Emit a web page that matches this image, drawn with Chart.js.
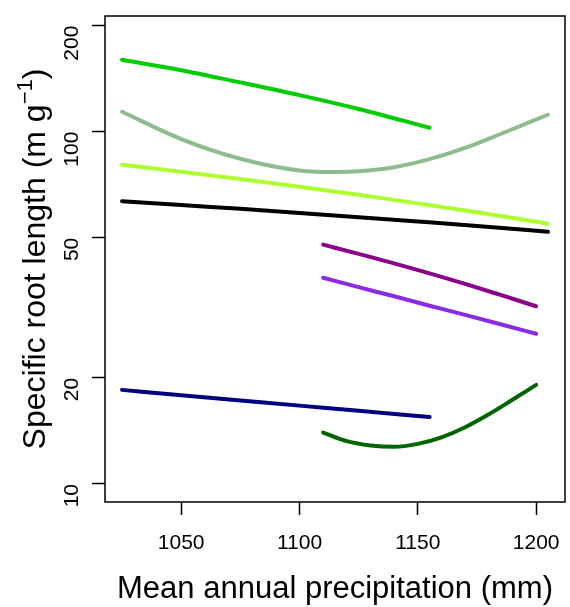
<!DOCTYPE html>
<html>
<head>
<meta charset="utf-8">
<script src="https://cdn.jsdelivr.net/npm/chart.js@4.4.0/dist/chart.umd.min.js"></script>
<style>
  html, body { margin: 0; padding: 0; background: #fff; }
  #wrap { width: 570px; height: 607px; }
</style>
</head>
<body>
<div id="wrap"><canvas id="myChart" width="570" height="607"></canvas></div>
<script>
// tick labels
var xTicks = [1050, 1100, 1150, 1200];
var yTicks = [10, 20, 50, 100, 200];

// fitted curves
var x1 = [1025, 1050, 1075, 1100, 1125, 1155];
var brightGreen = [160, 149.5, 138, 127, 116, 102.6];

var x2 = [1025, 1050, 1075, 1100, 1115, 1125, 1140, 1155, 1170, 1185, 1205];
var seaGreen = [113.9, 95.3, 83.8, 77.6, 76.8, 77.2, 79.3, 83.6, 89.9, 98.5, 111.7];

var x3 = [1025, 1050, 1075, 1100, 1125, 1150, 1175, 1205];
var yellowGreen = [80.6, 77.0, 73.4, 69.8, 66.2, 62.6, 59.1, 54.8];
var blackLine = [63.5, 61.9, 60.4, 58.8, 57.2, 55.6, 54.0, 52.0];

var x4 = [1110, 1125, 1140, 1155, 1170, 1185, 1200];
var magenta = [47.8, 45.0, 42.3, 39.6, 36.98, 34.4, 31.95];
var violet = [38.5, 36.2, 34.1, 32.06, 30.2, 28.4, 26.7];

var x5 = [1025, 1050, 1075, 1100, 1125, 1155];
var navy = [18.5, 17.85, 17.26, 16.69, 16.13, 15.5];

var x6 = [1110, 1120, 1130, 1140, 1150, 1160, 1170, 1180, 1190, 1200];
var darkGreen = [14.0, 13.24, 12.87, 12.75, 13.0, 13.57, 14.49, 15.77, 17.34, 19.12];

var FONT = '"Liberation Sans", Arial, sans-serif';

function pts(xs, ys) {
    return xs.map(function(x, i) { return {x: x, y: ys[i]}; });
}

function line(xs, ys, color) {
    return {
        data: pts(xs, ys),
        borderColor: color,
        borderWidth: 4,
        pointRadius: 0,
        cubicInterpolationMode: 'monotone',
        borderCapStyle: 'round',
        fill: false
    };
}

var boxAndTitle = {
    id: 'boxAndTitle',
    afterDraw: function(chart) {
        var ctx = chart.ctx;
        var a = chart.chartArea;
        ctx.save();
        ctx.strokeStyle = '#000';
        ctx.lineWidth = 1.5;
        ctx.strokeRect(a.left, a.top, a.right - a.left, a.bottom - a.top);

        // y axis title with superscript
        var big = '32px ' + FONT;
        var small = '22px ' + FONT;
        var p1 = 'Specific root length (m g';
        var p2 = '\u22121';
        var p3 = ')';
        ctx.font = big;
        var w1 = ctx.measureText(p1).width;
        var w3 = ctx.measureText(p3).width;
        ctx.font = small;
        var w2 = ctx.measureText(p2).width;
        var total = w1 + w2 + w3;
        ctx.translate(45, (a.top + a.bottom) / 2);
        ctx.rotate(-Math.PI / 2);
        ctx.fillStyle = '#000';
        ctx.textBaseline = 'alphabetic';
        ctx.textAlign = 'left';
        var sx = -total / 2;
        ctx.font = big;
        ctx.fillText(p1, sx, 0);
        ctx.font = small;
        ctx.fillText(p2, sx + w1, -13);
        ctx.font = big;
        ctx.fillText(p3, sx + w1 + w2, 0);
        ctx.restore();
    }
};

var ctx = document.getElementById('myChart').getContext('2d');
var myChart = new Chart(ctx, {
    type: 'line',
    data: {
        datasets: [
            line(x1, brightGreen, '#00CD00'),
            line(x2, seaGreen, '#8FBC8F'),
            line(x3, yellowGreen, '#ADFF2F'),
            line(x3, blackLine, '#000000'),
            line(x4, magenta, '#8B008B'),
            line(x4, violet, '#8A2BE2'),
            line(x5, navy, '#000080'),
            line(x6, darkGreen, '#006400')
        ]
    },
    options: {
        responsive: false,
        animation: false,
        layout: { padding: { left: 0, top: 16, right: 5, bottom: 0 } },
        plugins: {
            legend: { display: false },
            tooltip: { enabled: false }
        },
        scales: {
            x: {
                type: 'linear',
                min: 1017.8,
                max: 1212.2,
                afterBuildTicks: function(s) {
                    s.ticks = xTicks.map(function(v) { return {value: v}; });
                },
                afterFit: function(s) {
                    s.height = 105;
                    s.paddingLeft = 0;
                    s.paddingRight = 0;
                },
                grid: {
                    drawOnChartArea: false,
                    drawTicks: true,
                    tickLength: 13,
                    tickColor: '#000',
                    tickWidth: 1.5
                },
                border: { display: false },
                ticks: {
                    color: '#000',
                    padding: 16,
                    maxRotation: 0,
                    callback: function(v) { return String(v); },
                    font: { family: FONT, size: 21 }
                },
                title: {
                    display: true,
                    text: 'Mean annual precipitation (mm)',
                    color: '#000',
                    padding: { top: 0, bottom: 0 },
                    font: { family: FONT, size: 31, lineHeight: 1.1 }
                }
            },
            y: {
                type: 'logarithmic',
                min: 8.89,
                max: 213,
                afterBuildTicks: function(s) {
                    s.ticks = yTicks.map(function(v) { return {value: v}; });
                },
                afterFit: function(s) {
                    s.width = 105;
                    s.paddingTop = 0;
                    s.paddingBottom = 0;
                },
                grid: {
                    drawOnChartArea: false,
                    drawTicks: true,
                    tickLength: 13,
                    tickColor: '#000',
                    tickWidth: 1.5
                },
                border: { display: false },
                ticks: {
                    color: '#000',
                    padding: 20,
                    minRotation: 90,
                    maxRotation: 90,
                    callback: function(v) { return String(v); },
                    font: { family: FONT, size: 21 }
                }
            }
        }
    },
    plugins: [boxAndTitle]
});
</script>
</body>
</html>
